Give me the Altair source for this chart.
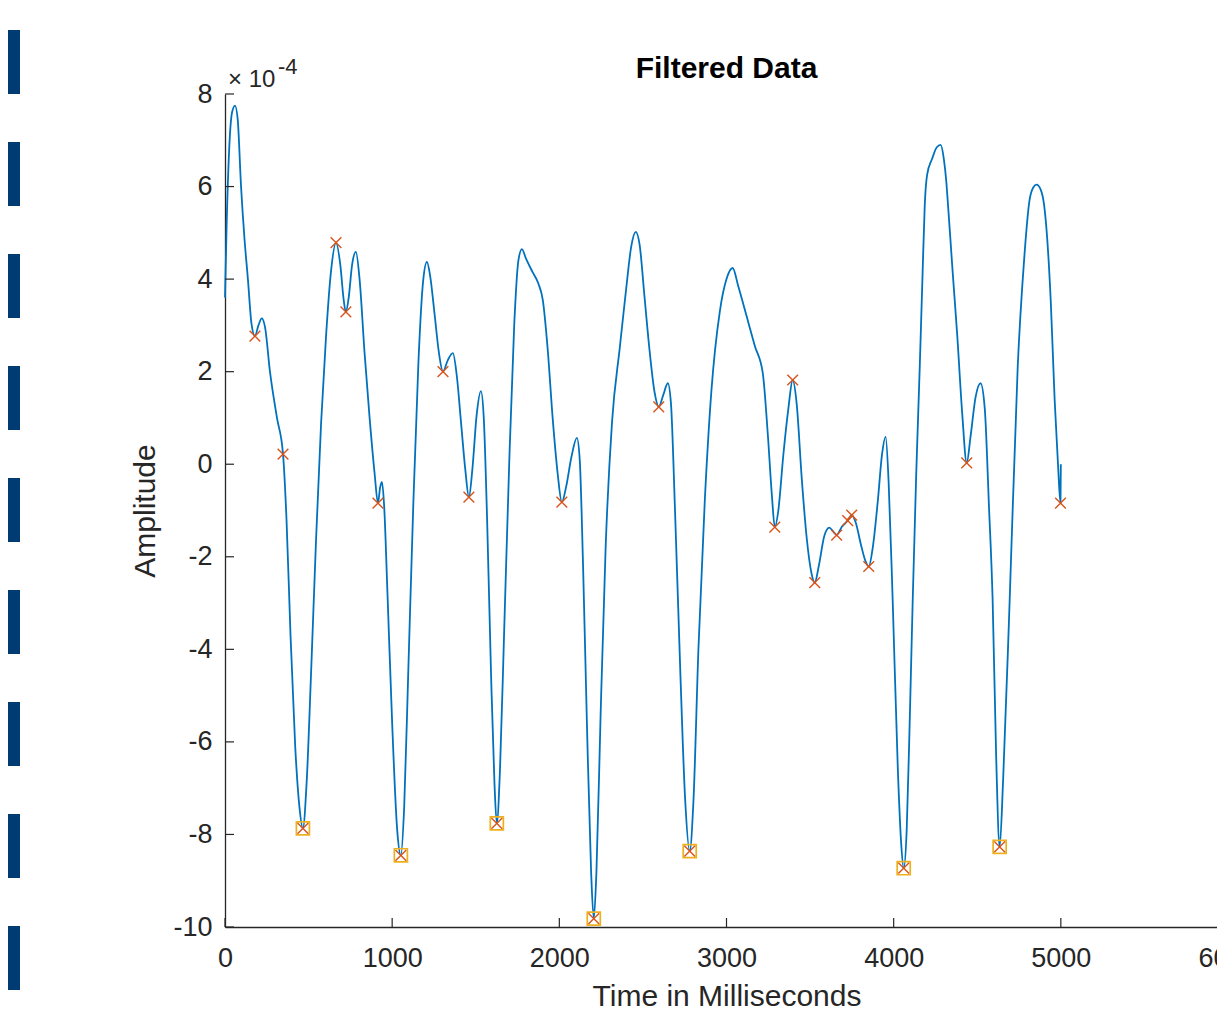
import altair as alt
import pandas as pd

# ---- data (amplitude in units of 1e-4) ----
t_ms = [0, 10, 25, 42, 60, 76, 96, 116, 137, 158, 179, 200, 220, 240, 269, 311, 347, 368, 392, 420,
        445, 466, 488, 515, 545, 575, 605, 635, 664, 690, 710, 723, 740, 760, 783, 805, 835, 865, 895, 915,
        928, 939, 952, 972, 1000, 1030, 1052, 1072, 1097, 1127, 1157, 1185, 1208, 1228, 1255, 1280, 1304,
        1333, 1363, 1387, 1412, 1437, 1459, 1480, 1505, 1531, 1548, 1568, 1592, 1612, 1626, 1645, 1670,
        1700, 1730, 1755, 1776, 1800, 1840, 1875, 1901, 1930, 1960, 1990, 2015, 2040, 2072, 2105, 2122,
        2142, 2165, 2190, 2206, 2222, 2247, 2277, 2315, 2362, 2400, 2430, 2457, 2480, 2510, 2540, 2570,
        2595, 2622, 2649, 2668, 2692, 2722, 2752, 2780, 2802, 2832, 2870, 2910, 2960, 3000, 3037, 3070,
        3121, 3170, 3217, 3248, 3272, 3289, 3310, 3340, 3370, 3396, 3420, 3450, 3480, 3508, 3528, 3552,
        3585, 3615, 3637, 3659, 3690, 3725, 3749, 3772, 3805, 3832, 3851, 3875, 3905, 3930, 3952, 3970,
        3994, 4025, 4045, 4060, 4078, 4095, 4114, 4135, 4156, 4172, 4186, 4200, 4230, 4258, 4281, 4300,
        4315, 4323, 4352, 4380, 4410, 4437, 4460, 4490, 4520, 4545, 4570, 4592, 4613, 4634, 4655, 4694,
        4742, 4780, 4813, 4835, 4855, 4880, 4900, 4918, 4940, 4963, 4983, 4998, 5000]
amplitude = [3.6, 5.2, 6.8, 7.6, 7.75, 7.45, 6.0, 4.9, 4.0, 3.05, 2.77, 3.0, 3.15, 2.95, 2.0, 1.0, 0.22,
             -1.2, -3.7, -6.1, -7.4, -7.87, -6.9, -4.5, -1.6, 0.9, 2.8, 4.2, 4.79, 4.3, 3.55, 3.29, 3.6,
             4.3, 4.59, 4.0, 2.4, 1.0, -0.2, -0.84, -0.5, -0.38, -0.9, -2.8, -5.6, -7.9, -8.45, -7.4, -4.4,
             -0.8, 2.2, 3.95, 4.37, 4.05, 3.2, 2.4, 2.0, 2.25, 2.4, 1.9, 0.9, -0.1, -0.71, -0.1, 1.05, 1.58,
             1.0, -1.2, -4.6, -6.9, -7.76, -6.6, -3.6, 0.0, 3.0, 4.4, 4.65, 4.45, 4.15, 3.9, 3.55, 2.5, 1.0,
             -0.2, -0.82, -0.5, 0.15, 0.57, 0.1, -2.2, -5.6, -8.8, -9.82, -8.8, -5.4, -1.8, 0.9, 2.53, 3.8,
             4.7, 5.02, 4.75, 3.6, 2.45, 1.55, 1.24, 1.5, 1.75, 1.3, -1.0, -4.3, -7.2, -8.36, -7.3, -4.0,
             -0.8, 1.6, 3.3, 4.0, 4.24, 3.85, 3.19, 2.55, 1.97, 0.6, -0.7, -1.36, -1.0, 0.2, 1.2, 1.82, 1.3,
             -0.3, -1.6, -2.35, -2.56, -2.2, -1.55, -1.37, -1.45, -1.53, -1.35, -1.22, -1.1, -1.25, -1.75,
             -2.1, -2.21, -1.8, -0.8, 0.2, 0.59, -0.4, -2.93, -6.6, -8.2, -8.73, -7.9, -5.7, -2.93, -0.2,
             2.1, 4.0, 5.6, 6.25, 6.6, 6.85, 6.9, 6.6, 6.1, 5.71, 4.2, 2.8, 1.1, 0.03, 0.6, 1.45, 1.75, 1.2,
             -0.9, -2.93, -6.3, -8.27, -6.8, -2.93, 2.1, 4.4, 5.71, 5.98, 6.04, 5.93, 5.6, 4.9, 3.5, 1.39,
             0.0, -0.84, 0.0]

# detected points (red x)
x_mark_t = [179, 347, 466, 664, 723, 915, 1052, 1304, 1459, 1626, 2015, 2206, 2595, 2780, 3289, 3396,
            3528, 3659, 3725, 3749, 3851, 4060, 4437, 4634, 4998]
x_mark_a = [2.77, 0.22, -7.87, 4.79, 3.29, -0.84, -8.45, 2.0, -0.71, -7.76, -0.82, -9.82, 1.24, -8.36,
            -1.36, 1.82, -2.56, -1.53, -1.22, -1.1, -2.21, -8.73, 0.03, -8.27, -0.84]

# selected minima (yellow squares)
sq_t = [466, 1052, 1626, 2206, 2780, 4060, 4634]
sq_a = [-7.87, -8.45, -7.76, -9.82, -8.36, -8.73, -8.27]

x_ticks = [0, 1000, 2000, 3000, 4000, 5000, 6000]
y_ticks = [-10, -8, -6, -4, -2, 0, 2, 4, 6, 8]

title_text = ["Filtered Data"]
exp_base = ["\u00d7 10"]
exp_power = ["-4"]
deco_bars = list(range(9))

# ---- styles ----
FONT = "Liberation Sans"
INK = "#262626"
W, H = 1003, 833

xs = alt.Scale(domain=[0, 6000], nice=False, zero=False)
ys = alt.Scale(domain=[-10, 8], nice=False, zero=False)

curve_df = pd.DataFrame({"t": t_ms, "a": amplitude, "i": list(range(len(t_ms)))})
xm_df = pd.DataFrame({"t": x_mark_t, "a": x_mark_a})
sq_df = pd.DataFrame({"t": sq_t, "a": sq_a})

hyphen_labels = "datum.value < 0 ? '-' + abs(datum.value) : '' + datum.value"

line = alt.Chart(curve_df).mark_line(color="#0072BD", strokeWidth=1.8, interpolate="monotone").encode(
    x=alt.X("t:Q", scale=xs,
            axis=alt.Axis(values=x_ticks, title="Time in Milliseconds", labelPadding=18,
                          titlePadding=10, labelFlush=False, labelExpr=hyphen_labels)),
    y=alt.Y("a:Q", scale=ys,
            axis=alt.Axis(values=y_ticks, title="Amplitude", labelPadding=13, titlePadding=12,
                          labelExpr=hyphen_labels)),
    order="i:Q",
)

yt = alt.Chart(pd.DataFrame({"v": y_ticks})).mark_rule(color=INK, strokeWidth=1.2).encode(
    y=alt.Y("v:Q", scale=ys), x=alt.value(0), x2=alt.value(9))
xt = alt.Chart(pd.DataFrame({"v": x_ticks})).mark_rule(color=INK, strokeWidth=1.2).encode(
    x=alt.X("v:Q", scale=xs), y=alt.value(H), y2=alt.value(H - 9))

sq = alt.Chart(sq_df).mark_point(shape="square", size=170, filled=False, color="#EDB120",
                                 strokeWidth=1.7, opacity=1).encode(
    x=alt.X("t:Q", scale=xs), y=alt.Y("a:Q", scale=ys))
xm = alt.Chart(xm_df).mark_point(shape="M-1,-1L1,1M1,-1L-1,1", size=115, filled=False,
                                 color="#D95319", strokeWidth=1.4, opacity=1).encode(
    x=alt.X("t:Q", scale=xs), y=alt.Y("a:Q", scale=ys))

ttl = alt.Chart(pd.DataFrame({"s": title_text})).mark_text(
    font=FONT, fontSize=30, fontWeight="bold", color="#000000", align="center",
    baseline="alphabetic", dy=-16).encode(
    x=alt.datum(3000, scale=xs), y=alt.datum(8, scale=ys), text="s:N")
e1 = alt.Chart(pd.DataFrame({"s": exp_base})).mark_text(
    font=FONT, fontSize=24, color=INK, align="left", baseline="alphabetic", dx=3, dy=-7).encode(
    x=alt.datum(0, scale=xs), y=alt.datum(8, scale=ys), text="s:N")
e2 = alt.Chart(pd.DataFrame({"s": exp_power})).mark_text(
    font=FONT, fontSize=22, color=INK, align="left", baseline="alphabetic", dx=53, dy=-20).encode(
    x=alt.datum(0, scale=xs), y=alt.datum(8, scale=ys), text="s:N")

main = alt.layer(line, yt, xt, sq, xm, ttl, e1, e2)

bars = alt.Chart(pd.DataFrame({"bar": deco_bars})).mark_rect(color="#003B73").encode(
    y=alt.Y("bar:O", scale=alt.Scale(domain=deco_bars, range=[-64, 896],
                                     paddingInner=0.4286, paddingOuter=0), axis=None),
    x=alt.value(-217), x2=alt.value(-205))

chart = alt.layer(main, bars).resolve_scale(y="independent").properties(
    width=W, height=H, autosize=alt.AutoSizeParams(type="none"),
    padding={"left": 217, "top": 86, "right": -11, "bottom": 84}
).configure_view(stroke=None).configure_axis(
    grid=False, ticks=False, domainColor=INK, domainWidth=1.3,
    labelFont=FONT, labelFontSize=27, labelColor=INK,
    titleFont=FONT, titleFontSize=30, titleFontWeight="normal", titleColor=INK,
)

chart.save("out.html", embed_options={"renderer": "svg", "actions": False})
